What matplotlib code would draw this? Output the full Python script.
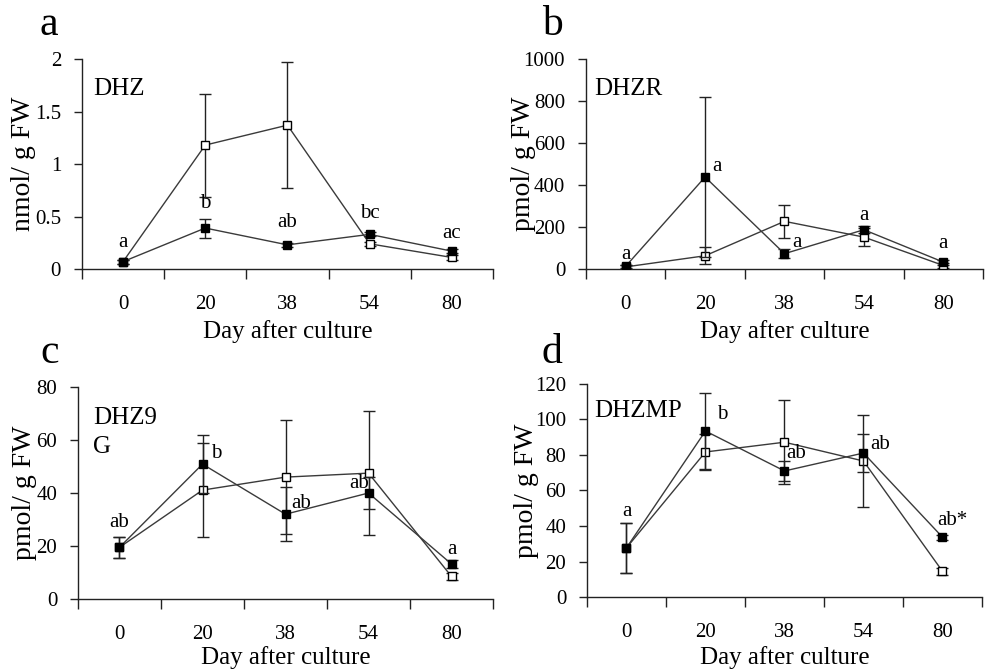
#四个面板的细胞分裂素含量折线图
import numpy as np
import matplotlib.pyplot as plt
from matplotlib.ticker import FixedLocator, NullFormatter

plt.rcParams['font.family'] = ['Liberation Serif', 'DejaVu Serif']

#横轴类别
days = ['0', '20', '38', '54', '80']

#a DHZ (nmol/ g FW)
dhz_open = [0.07, 1.18, 1.37, 0.24, 0.11]
dhz_open_err = [0.02, 0.49, 0.60, 0.02, 0.02]
dhz_fill = [0.07, 0.39, 0.23, 0.33, 0.17]
dhz_fill_err = [0.02, 0.09, 0.02, 0.02, 0.02]
dhz_letters = ['a', 'b', 'ab', 'bc', 'ac']

#b DHZR (pmol/ g FW)
dhzr_open = [10, 63, 227, 152, 17]
dhzr_open_err = [8, 40, 78, 41, 10]
dhzr_fill = [13, 438, 73, 187, 33]
dhzr_fill_err = [8, 379, 20, 16, 12]
dhzr_letters = ['a', 'a', 'a', 'a', 'a']

#c DHZ9G
dhz9g_open = [19.5, 41.1, 46.0, 47.5, 8.5]
dhz9g_open_err = [4, 17.7, 21.5, 23.3, 1.5]
dhz9g_fill = [19.5, 50.9, 32.0, 40.0, 13.2]
dhz9g_fill_err = [4, 11.0, 10.2, 6.0, 1.5]
dhz9g_letters = ['ab', 'b', 'ab', 'ab', 'a']

#d DHZMP
dhzmp_open = [27.7, 81.7, 87.2, 76.6, 14.5]
dhzmp_open_err = [14, 10.2, 23.5, 26.0, 2.0]
dhzmp_fill = [27.7, 93.5, 71.0, 81.1, 33.7]
dhzmp_fill_err = [14, 21.4, 5.5, 10.7, 1.5]
dhzmp_letters = ['a', 'b', 'ab', 'ab', 'ab*']

fig = plt.figure(figsize=(9.91, 6.72), dpi=100)

#面板设置: 位置, 数据, 字母位置
panels = [
    dict(rect=[0.0827, 0.5997, 0.4147, 0.3125], tag='a', tagxy=(0.049, 0.948),
         name='DHZ', namexy=(0.027, 0.857), ylabel='nmol/ g FW', ylx=-0.142,
         ylim=2, ystep=0.5, yfmt=['0', '0.5', '1', '1.5', '2'],
         op=dhz_open, ope=dhz_open_err, fi=dhz_fill, fie=dhz_fill_err, let=dhz_letters,
         lety=[0.25, 0.62, 0.44, 0.53, 0.34], letdx=[0, 0, 0, 0, 0], letha='c' * 5,
         xly=-0.30),
    dict(rect=[0.5913, 0.5997, 0.4006, 0.3125], tag='b', tagxy=(0.557, 0.948),
         name='DHZR', namexy=(0.02, 0.857), ylabel='pmol/ g FW', ylx=-0.158,
         ylim=1000, ystep=200, yfmt=None,
         op=dhzr_open, ope=dhzr_open_err, fi=dhzr_fill, fie=dhzr_fill_err, let=dhzr_letters,
         lety=[70, 490, 124, 256, 120], letdx=[0, 0.09, 0.1, 0, 0], letha='cllcc',
         xly=-0.30),
    dict(rect=[0.0787, 0.1086, 0.4188, 0.3155], tag='c', tagxy=(0.05, 0.46),
         name='DHZ9\nG', namexy=(0.036, 0.785), ylabel='pmol/ g FW', ylx=-0.128,
         ylim=80, ystep=20, yfmt=None,
         op=dhz9g_open, ope=dhz9g_open_err, fi=dhz9g_fill, fie=dhz9g_fill_err, let=dhz9g_letters,
         lety=[29, 55, 36, 43.6, 18.6], letdx=[0, 0.1, 0.07, -0.11, 0], letha='cllcc',
         xly=-0.278),
    dict(rect=[0.5923, 0.1116, 0.3986, 0.317], tag='d', tagxy=(0.557, 0.46),
         name='DHZMP', namexy=(0.018, 0.873), ylabel='pmol/ g FW', ylx=-0.153,
         ylim=120, ystep=20, yfmt=None,
         op=dhzmp_open, ope=dhzmp_open_err, fi=dhzmp_fill, fie=dhzmp_fill_err, let=dhzmp_letters,
         lety=[48, 102.7, 81, 85.7, 43], letdx=[0, 0.15, 0.02, 0.08, -0.06], letha='cllll',
         xly=-0.286),
]

x = np.arange(len(days))
for p in panels:
    ax = fig.add_axes(p['rect'])
    #空心方块
    ax.errorbar(x, p['op'], yerr=p['ope'], color='#3a3a3a', lw=1, marker='s', ms=6,
                mfc='white', mec='black', mew=1, ecolor='#222222', elinewidth=1,
                capsize=4, capthick=1, zorder=3)
    #实心方块
    ax.errorbar(x, p['fi'], yerr=p['fie'], color='#3a3a3a', lw=1, marker='s', ms=6,
                mfc='black', mec='black', mew=1, ecolor='#222222', elinewidth=1,
                capsize=4, capthick=1, zorder=4)

    ax.set_xlim(-0.5, len(days) - 0.5)
    ax.set_ylim(0, p['ylim'])
    ax.spines['top'].set_visible(False)
    ax.spines['right'].set_visible(False)
    for s in ['left', 'bottom']:
        ax.spines[s].set_color('#222222')
        ax.spines[s].set_linewidth(1)

    #x轴: 刻度线在类别之间, 标签在类别中心
    ax.xaxis.set_major_locator(FixedLocator(np.arange(-0.5, len(days), 1.0)))
    ax.xaxis.set_major_formatter(NullFormatter())
    ax.xaxis.set_minor_locator(FixedLocator(x))
    ax.set_xticklabels(days, minor=True)
    ax.tick_params(axis='x', which='major', direction='out', length=7, width=1, color='#222222')
    ax.tick_params(axis='x', which='minor', length=0, pad=19, labelsize=15)

    yt = np.arange(0, p['ylim'] + p['ystep'] / 2, p['ystep'])
    ax.set_yticks(yt)
    if p['yfmt'] is not None:
        ax.set_yticklabels(p['yfmt'])
    ax.tick_params(axis='y', direction='out', length=6, width=1, pad=9, labelsize=15,
                   color='#222222')

    ax.set_ylabel(p['ylabel'], fontsize=20, va='center')
    ax.yaxis.set_label_coords(p['ylx'], 0.5)
    ax.set_xlabel('Day after culture', fontsize=18, va='center')
    ax.xaxis.set_label_coords(0.5, p['xly'])

    ax.text(p['namexy'][0], p['namexy'][1], p['name'], transform=ax.transAxes,
            fontsize=18, ha='left', va='center', linespacing=1.45)

    #显著性字母
    for i, (lt, ly) in enumerate(zip(p['let'], p['lety'])):
        ha = {'c': 'center', 'l': 'left'}[p['letha'][i]]
        ax.text(x[i] + p['letdx'][i], ly, lt, fontsize=15, ha=ha, va='center', zorder=5)

    fig.text(p['tagxy'][0], p['tagxy'][1], p['tag'], fontsize=30, ha='center', va='baseline')

plt.savefig('out.png', dpi=100)
